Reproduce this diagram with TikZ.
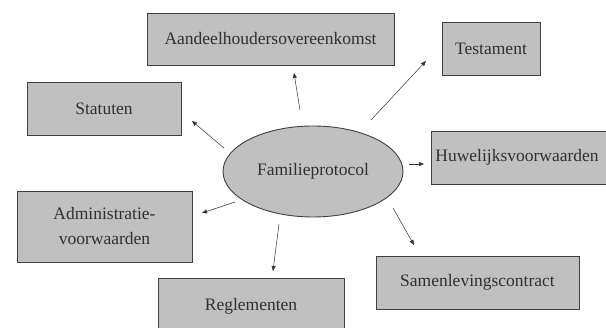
\documentclass[tikz,border=0pt]{standalone}
\usepackage{fontspec}
\setmainfont{Liberation Serif}
\usetikzlibrary{arrows.meta,shapes.geometric}
\definecolor{boxfill}{HTML}{C0C0C0}
\definecolor{boxline}{HTML}{404040}
\definecolor{txt}{HTML}{303030}
\tikzset{
  box/.style={draw=boxline, line width=0.9pt, fill=boxfill, text=txt, inner sep=0pt,
    font=\fontsize{17.5}{25}\selectfont, align=center},
  link/.style={draw=black!80, line width=0.5pt, -{Triangle[length=5pt,width=4pt]}}
}
\begin{document}
\begin{tikzpicture}[x=1pt,y=-1pt]
\useasboundingbox (0,0) rectangle (606,328);
\clip (0,0) rectangle (606,328);
% boxes
\node[box, minimum width=247, minimum height=52] (aan) at (270.5,39) {Aandeelhoudersovereenkomst};
\node[box, minimum width=98, minimum height=53] (tes) at (491,48.5) {Testament};
\node[box, minimum width=154, minimum height=53] (sta) at (104,108.5) {Statuten};
\node[box, minimum width=180, minimum height=53, text width=172, align=left, inner xsep=4pt, anchor=west] (huw) at (431,157.5) {Huwelijksvoorwaarden};
\node[box, minimum width=175, minimum height=71] (adm) at (104.5,226.5) {Administratie-\\voorwaarden};
\node[box, minimum width=203, minimum height=53] (sam) at (477.5,282.5) {Samenlevingscontract};
\node[box, minimum width=186, minimum height=56] (reg) at (251,306) {\raisebox{4pt}{Reglementen}};
% central ellipse
\node[ellipse, draw=boxline, line width=0.9pt, fill=boxfill, text=txt, minimum width=180, minimum height=91,
  inner sep=0pt, font=\fontsize{17.5}{25}\selectfont] (fp) at (313,171.5) {Familieprotocol};
% connector endpoints
\coordinate (s1) at (300,110); \coordinate (e1) at (294,73);
\coordinate (s2) at (371,120); \coordinate (e2) at (426,61);
\coordinate (s3) at (409,164); \coordinate (e3) at (424,164);
\coordinate (s4) at (393,208); \coordinate (e4) at (414,245);
\coordinate (s5) at (279,224); \coordinate (e5) at (273,271);
\coordinate (s6) at (235,202); \coordinate (e6) at (202,213);
\coordinate (s7) at (224,148); \coordinate (e7) at (192,121);
\draw[link] (s1) -- (e1);
\draw[link] (s2) -- (e2);
\draw[link] (s3) -- (e3);
\draw[link] (s4) -- (e4);
\draw[link] (s5) -- (e5);
\draw[link] (s6) -- (e6);
\draw[link] (s7) -- (e7);
\end{tikzpicture}
\end{document}
